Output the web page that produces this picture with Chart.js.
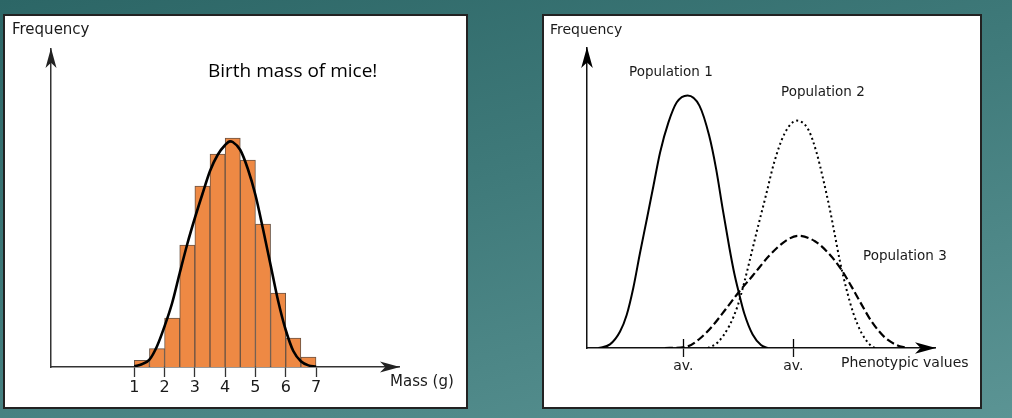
<!DOCTYPE html>
<html>
<head>
<meta charset="utf-8">
<script src="https://cdn.jsdelivr.net/npm/chart.js@4.4.1/dist/chart.umd.min.js"></script>
<style>
  html, body { margin: 0; padding: 0; }
  body {
    width: 1012px; height: 418px; overflow: hidden; position: relative;
    background: linear-gradient(165deg, #2c6666 0%, #3f7a7a 45%, #5b9494 100%);
    font-family: "DejaVu Sans", sans-serif; color: #1a1a1a;
  }
  .panel { position: absolute; background: #fff; border: 2px solid #222; box-sizing: border-box; }
  .plot { position: absolute; }
  .lbl { position: absolute; white-space: nowrap; line-height: 1; }
</style>
</head>
<body>
<div class="panel" style="left:3px;top:14px;width:465px;height:395px"></div>
<div class="panel" style="left:542px;top:14px;width:440px;height:395px"></div>
<div class="plot" style="left:3px;top:14px;width:465px;height:395px"><canvas id="massChart"></canvas></div>
<div class="plot" style="left:542px;top:14px;width:440px;height:395px"><canvas id="popChart"></canvas></div>

<div class="lbl" style="left:12px;top:22px;font-size:15px">Frequency</div>
<div class="lbl" style="left:208px;top:61px;font-size:19px;font-family:'Open Sans',sans-serif;color:#000">Birth mass of mice!</div>
<div class="lbl" style="left:390px;top:374px;font-size:15px">Mass (g)</div>

<div class="lbl" style="left:550px;top:22px;font-size:14px">Frequency</div>
<div class="lbl" style="left:629px;top:64.5px;font-size:13.5px">Population 1</div>
<div class="lbl" style="left:781px;top:84.5px;font-size:13.5px">Population 2</div>
<div class="lbl" style="left:863px;top:249px;font-size:13.5px">Population 3</div>
<div class="lbl" style="left:841px;top:355px;font-size:14px">Phenotypic values</div>

<script>
// left: histogram of birth mass
const massTicks = [1, 2, 3, 4, 5, 6, 7];
const massBins = [1.25, 1.75, 2.25, 2.75, 3.25, 3.75, 4.25, 4.75, 5.25, 5.75, 6.25, 6.75];
const binCounts = [3.3, 9.2, 24.5, 61, 90.5, 106.5, 114.5, 103.5, 71.5, 37, 14.5, 5];
const curveMass = [1, 1.25, 1.5, 1.75, 2, 2.25, 2.5, 2.75, 3, 3.25, 3.5, 3.75, 4, 4.16, 4.25, 4.5, 4.75, 5, 5.25, 5.5, 5.75, 6, 6.25, 6.5, 6.75, 7];
const curveFreq = [0.3, 1.4, 3.7, 10.4, 20.4, 32, 47, 61.5, 74.5, 86.5, 98, 106, 111, 112.8, 112.5, 108.5, 99, 86, 69, 51, 33, 18.5, 8, 2.9, 0.8, 0.2];

// right: three populations
const avTicks = [27.7, 59.3];
const pop1X = [3.3, 6.6, 9.5, 11.4, 13.3, 15.2, 17.2, 19.1, 21.0, 23.4, 25.8, 28.9, 32.3, 35.1, 37.1, 39.0, 40.9, 42.3, 43.6, 45.2, 47.6, 50.0, 51.9];
const pop1Y = [0, 1.2, 5.5, 11, 20, 31.5, 43.0, 54.1, 65.2, 75.2, 81.9, 84.2, 80.8, 70.8, 59.7, 46.3, 33.5, 25, 18.6, 11.5, 4.5, 1, 0];
const pop2X = [34.7, 37.6, 40.9, 43.3, 45.2, 47.1, 49.1, 51.4, 53.8, 56.7, 60.3, 63.6, 66.0, 67.9, 69.8, 71.3, 72.7, 74.6, 76.5, 78.9, 81.3, 82.8];
const pop2Y = [0, 1.9, 7.4, 14.1, 21.9, 30.8, 40.3, 50.8, 61.9, 71.3, 75.8, 72.8, 65.0, 56.1, 46.1, 37.2, 28.8, 19.4, 11.7, 5.0, 1.1, 0];
const pop3X = [22.4, 28.5, 32.3, 36.1, 39.9, 43.6, 47.6, 52.4, 57.2, 60.7, 65.5, 69.3, 72.7, 76.1, 79.0, 81.8, 85.6, 89.0, 91.9];
const pop3Y = [0, 0.4, 3.0, 7.4, 13.0, 18.6, 24.1, 30.8, 35.8, 37.4, 35.6, 31.7, 26.8, 20.3, 14.3, 8.8, 3.5, 1.0, 0];

Chart.defaults.font.family = "DejaVu Sans";
Chart.defaults.color = "#1a1a1a";

const toPoints = (xs, ys) => xs.map((x, i) => ({ x, y: ys[i] }));

// arrow heads at the end of both axes, plus the upper half of tick marks
const axisArrows = {
  id: "axisArrows",
  afterDraw(chart, args, o) {
    const { ctx, chartArea: a } = chart;
    ctx.save();
    ctx.fillStyle = o.color;
    ctx.beginPath();
    ctx.moveTo(a.left, a.top - 1);
    ctx.lineTo(a.left - o.half, a.top + o.len);
    ctx.lineTo(a.left, a.top + o.len * 0.72);
    ctx.lineTo(a.left + o.half, a.top + o.len);
    ctx.closePath();
    ctx.fill();
    ctx.beginPath();
    ctx.moveTo(a.right + 1, a.bottom);
    ctx.lineTo(a.right - o.len, a.bottom - o.half);
    ctx.lineTo(a.right - o.len * 0.72, a.bottom);
    ctx.lineTo(a.right - o.len, a.bottom + o.half);
    ctx.closePath();
    ctx.fill();
    if (o.upTicks) {
      const sx = chart.scales.x;
      ctx.strokeStyle = o.color;
      ctx.lineWidth = 1.3;
      sx.ticks.forEach(t => {
        const px = Math.round(sx.getPixelForValue(t.value)) + 0.5;
        ctx.beginPath();
        ctx.moveTo(px, a.bottom);
        ctx.lineTo(px, a.bottom - o.upTicks);
        ctx.stroke();
      });
    }
    ctx.restore();
  }
};

new Chart(document.getElementById("massChart"), {
  type: "bar",
  data: {
    datasets: [
      {
        type: "line",
        data: toPoints(curveMass, curveFreq),
        borderColor: "#000",
        borderWidth: 2.6,
        pointRadius: 0,
        cubicInterpolationMode: "monotone",
        order: 0
      },
      {
        type: "bar",
        data: toPoints(massBins, binCounts),
        backgroundColor: "#ee8944",
        borderColor: "#6b5444",
        borderWidth: 1,
        categoryPercentage: 1,
        barPercentage: 1,
        order: 1
      }
    ]
  },
  options: {
    responsive: true,
    maintainAspectRatio: false,
    animation: false,
    layout: { padding: { left: 48, top: 35, right: 69, bottom: 0 } },
    plugins: {
      legend: { display: false },
      tooltip: { enabled: false },
      axisArrows: { color: "#222", len: 19, half: 5.5 }
    },
    scales: {
      x: {
        type: "linear", min: -1.75, max: 9.74, offset: false,
        afterBuildTicks: s => { s.ticks = massTicks.map(v => ({ value: v })); },
        afterFit: s => { s.height = 42; },
        grid: { offset: false, drawOnChartArea: false, tickLength: 10, tickColor: "#333", tickWidth: 1.3 },
        border: { color: "#333", width: 1.5 },
        ticks: { font: { size: 16 }, padding: 1, maxRotation: 0, autoSkip: false }
      },
      y: {
        min: 0, max: 159,
        afterFit: s => { s.width = 0; },
        grid: { display: false },
        ticks: { display: false },
        border: { color: "#333", width: 1.5 }
      }
    }
  },
  plugins: [axisArrows]
});

new Chart(document.getElementById("popChart"), {
  type: "line",
  data: {
    datasets: [
      { data: toPoints(pop1X, pop1Y), borderColor: "#000", borderWidth: 2, pointRadius: 0, cubicInterpolationMode: "monotone" },
      { data: toPoints(pop2X, pop2Y), borderColor: "#000", borderWidth: 2, borderDash: [2, 3], pointRadius: 0, cubicInterpolationMode: "monotone" },
      { data: toPoints(pop3X, pop3Y), borderColor: "#000", borderWidth: 2.2, borderDash: [8, 3.5], pointRadius: 0, cubicInterpolationMode: "monotone" }
    ]
  },
  options: {
    responsive: true,
    maintainAspectRatio: false,
    animation: false,
    layout: { padding: { left: 45, top: 34, right: 47, bottom: 0 } },
    plugins: {
      legend: { display: false },
      tooltip: { enabled: false },
      axisArrows: { color: "#000", len: 20, half: 5.8, upTicks: 9 }
    },
    scales: {
      x: {
        type: "linear", min: 0, max: 100,
        afterBuildTicks: s => { s.ticks = avTicks.map(v => ({ value: v })); },
        afterFit: s => { s.height = 61; },
        grid: { drawOnChartArea: false, tickLength: 9, tickColor: "#111", tickWidth: 1.3 },
        border: { color: "#111", width: 1.5 },
        ticks: { font: { size: 14 }, padding: 1, maxRotation: 0, autoSkip: false, callback: () => "av." }
      },
      y: {
        min: 0, max: 100,
        afterFit: s => { s.width = 0; },
        grid: { display: false },
        ticks: { display: false },
        border: { color: "#111", width: 1.5 }
      }
    }
  },
  plugins: [axisArrows]
});
</script>
</body>
</html>
